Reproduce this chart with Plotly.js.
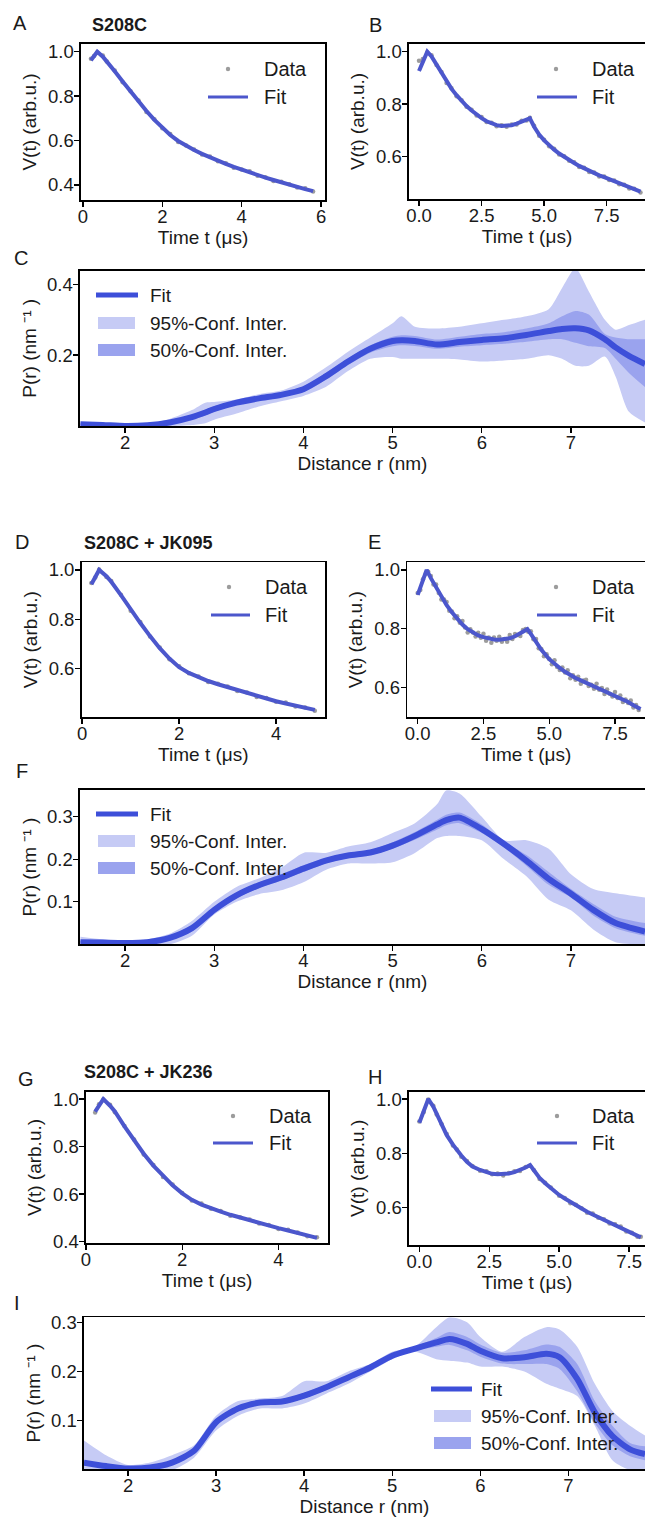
<!DOCTYPE html>
<html><head><meta charset="utf-8">
<script src="https://cdn.plot.ly/plotly-3.0.1.min.js"></script>
<style>html,body{margin:0;padding:0;background:#fff}#chart{width:645px;height:1517px}</style>
</head><body><div id="chart"></div>
<script>
// ---------- Time-domain traces V(t) ----------
const A_t   = [0.2,0.28,0.36,0.5,0.6,0.8,1.0,1.2,1.4,1.6,1.8,2.0,2.2,2.4,2.6,2.8,3.0,3.2,3.4,3.6,3.8,4.0,4.2,4.4,4.6,4.8,5.0,5.2,5.4,5.6,5.8];
const A_fit = [0.962,0.985,1.000,0.978,0.958,0.912,0.866,0.820,0.775,0.733,0.693,0.657,0.625,0.598,0.576,0.557,0.540,0.524,0.509,0.495,0.481,0.468,0.456,0.444,0.433,0.422,0.411,0.401,0.391,0.381,0.372];
const A_data= [0.968,0.981,0.997,0.983,0.956,0.916,0.863,0.822,0.780,0.729,0.696,0.655,0.629,0.593,0.578,0.560,0.537,0.528,0.507,0.498,0.477,0.470,0.461,0.441,0.435,0.418,0.414,0.403,0.388,0.385,0.370];

const B_t   = [0.0,0.15,0.33,0.5,0.7,0.9,1.1,1.3,1.5,1.7,1.9,2.1,2.3,2.5,2.7,2.9,3.1,3.3,3.5,3.7,3.9,4.1,4.3,4.43,4.6,4.8,5.0,5.2,5.4,5.6,5.8,6.0,6.2,6.4,6.6,6.8,7.0,7.2,7.4,7.6,7.8,8.0,8.2,8.4,8.6,8.85];
const B_fit = [0.926,0.962,1.000,0.982,0.952,0.918,0.885,0.858,0.834,0.812,0.793,0.776,0.760,0.747,0.735,0.726,0.720,0.717,0.717,0.720,0.726,0.733,0.741,0.746,0.714,0.684,0.662,0.643,0.627,0.612,0.599,0.588,0.576,0.565,0.555,0.545,0.537,0.529,0.522,0.514,0.506,0.498,0.490,0.482,0.475,0.467];
const B_data= [0.965,0.972,0.997,0.986,0.949,0.922,0.881,0.861,0.830,0.815,0.790,0.779,0.757,0.751,0.732,0.729,0.716,0.720,0.714,0.723,0.723,0.737,0.738,0.748,0.718,0.680,0.665,0.640,0.630,0.608,0.602,0.585,0.579,0.561,0.558,0.542,0.540,0.525,0.525,0.511,0.509,0.495,0.493,0.479,0.478,0.464];

const D_t   = [0.19,0.27,0.35,0.5,0.6,0.8,1.0,1.2,1.4,1.6,1.8,2.0,2.2,2.4,2.6,2.8,3.0,3.2,3.4,3.6,3.8,4.0,4.2,4.4,4.6,4.8];
const D_fit = [0.942,0.972,1.000,0.975,0.952,0.898,0.840,0.785,0.732,0.683,0.641,0.606,0.583,0.565,0.550,0.537,0.525,0.513,0.501,0.489,0.478,0.468,0.459,0.450,0.441,0.433];
const D_data= [0.947,0.969,1.002,0.971,0.955,0.900,0.835,0.789,0.730,0.686,0.638,0.610,0.581,0.568,0.546,0.539,0.528,0.510,0.503,0.485,0.481,0.466,0.463,0.447,0.443,0.430];

const E_t   = [0.0,0.17,0.34,0.5,0.7,0.9,1.1,1.3,1.5,1.7,1.9,2.1,2.3,2.5,2.7,2.9,3.1,3.3,3.5,3.7,3.9,4.17,4.3,4.5,4.7,5.0,5.2,5.4,5.6,5.8,6.0,6.2,6.4,6.6,6.8,7.0,7.2,7.4,7.6,7.8,8.0,8.2,8.47];
const E_fit = [0.915,0.958,1.000,0.972,0.940,0.908,0.880,0.856,0.834,0.814,0.798,0.786,0.777,0.771,0.766,0.763,0.762,0.763,0.767,0.774,0.784,0.798,0.782,0.755,0.728,0.696,0.680,0.666,0.653,0.641,0.632,0.624,0.616,0.608,0.600,0.592,0.584,0.577,0.569,0.560,0.550,0.539,0.526];
const E_dt  = [0.0,0.1,0.2,0.3,0.4,0.5,0.6,0.7,0.8,0.9,1.0,1.1,1.2,1.3,1.4,1.5,1.6,1.7,1.8,1.9,2.0,2.1,2.2,2.3,2.4,2.5,2.6,2.7,2.8,2.9,3.0,3.1,3.2,3.3,3.4,3.5,3.6,3.7,3.8,3.9,4.0,4.1,4.2,4.3,4.4,4.5,4.6,4.7,4.8,4.9,5.0,5.1,5.2,5.3,5.4,5.5,5.6,5.7,5.8,5.9,6.0,6.1,6.2,6.3,6.4,6.5,6.6,6.7,6.8,6.9,7.0,7.1,7.2,7.3,7.4,7.5,7.6,7.7,7.8,7.9,8.0,8.1,8.2,8.3,8.4];
const E_data= [0.921,0.932,0.968,0.985,0.994,0.979,0.950,0.950,0.921,0.899,0.899,0.891,0.861,0.858,0.835,0.842,0.820,0.826,0.804,0.787,0.798,0.787,0.773,0.786,0.769,0.783,0.759,0.770,0.752,0.770,0.759,0.772,0.755,0.765,0.755,0.778,0.765,0.782,0.778,0.775,0.795,0.799,0.789,0.791,0.764,0.765,0.733,0.731,0.706,0.713,0.697,0.679,0.692,0.669,0.659,0.668,0.651,0.658,0.631,0.641,0.626,0.636,0.612,0.623,0.626,0.605,0.609,0.595,0.612,0.592,0.598,0.577,0.593,0.578,0.569,0.584,0.564,0.572,0.550,0.559,0.547,0.555,0.531,0.540,0.523];

const G_t   = [0.19,0.27,0.36,0.5,0.6,0.8,1.0,1.2,1.4,1.6,1.8,2.0,2.2,2.4,2.6,2.8,3.0,3.2,3.4,3.6,3.8,4.0,4.2,4.4,4.6,4.8];
const G_fit = [0.947,0.975,1.000,0.972,0.948,0.885,0.826,0.770,0.720,0.676,0.637,0.603,0.576,0.556,0.540,0.526,0.513,0.501,0.490,0.479,0.468,0.457,0.447,0.436,0.426,0.416];
const G_data= [0.943,0.978,0.998,0.976,0.945,0.887,0.830,0.767,0.722,0.672,0.640,0.605,0.573,0.560,0.538,0.529,0.509,0.503,0.493,0.476,0.470,0.453,0.450,0.438,0.423,0.418];

const H_t   = [0.0,0.16,0.32,0.5,0.62,0.8,0.98,1.2,1.34,1.5,1.7,1.9,2.17,2.4,2.6,2.8,3.0,3.2,3.4,3.6,3.8,3.96,4.1,4.3,4.5,4.7,5.0,5.2,5.4,5.6,5.8,6.0,6.2,6.4,6.6,6.8,7.0,7.2,7.4,7.6,7.8,7.92];
const H_fit = [0.913,0.955,1.000,0.972,0.947,0.905,0.867,0.832,0.812,0.792,0.769,0.752,0.739,0.730,0.725,0.723,0.723,0.726,0.731,0.738,0.748,0.757,0.735,0.710,0.690,0.672,0.647,0.634,0.621,0.608,0.596,0.585,0.575,0.565,0.555,0.546,0.537,0.528,0.516,0.506,0.497,0.491];
const H_data= [0.917,0.952,0.998,0.975,0.943,0.907,0.871,0.829,0.814,0.788,0.772,0.754,0.736,0.734,0.723,0.726,0.719,0.728,0.734,0.735,0.750,0.755,0.738,0.706,0.692,0.675,0.644,0.636,0.617,0.611,0.598,0.582,0.579,0.563,0.558,0.542,0.539,0.531,0.513,0.508,0.493,0.493];

// ---------- Distance distributions P(r) ----------
const C_r     = [1.5,1.75,2.0,2.25,2.5,2.75,2.9,3.0,3.25,3.5,3.75,4.0,4.25,4.5,4.75,5.0,5.1,5.25,5.5,5.75,6.0,6.25,6.5,6.75,6.9,7.05,7.2,7.38,7.5,7.65,7.83];
const C_fit   = [0.005,0.003,0.0,0.002,0.010,0.025,0.038,0.048,0.066,0.078,0.088,0.104,0.140,0.182,0.218,0.240,0.242,0.240,0.230,0.237,0.243,0.248,0.257,0.268,0.274,0.276,0.270,0.245,0.222,0.198,0.175];
const C_up95  = [0.010,0.006,0.003,0.006,0.020,0.045,0.066,0.068,0.075,0.090,0.100,0.125,0.165,0.210,0.250,0.290,0.310,0.280,0.275,0.280,0.290,0.300,0.310,0.330,0.390,0.445,0.380,0.300,0.272,0.285,0.300];
const C_lo95  = [0.0,0.0,0.0,0.0,0.0,0.003,0.008,0.018,0.035,0.055,0.070,0.085,0.110,0.155,0.190,0.195,0.190,0.190,0.190,0.188,0.182,0.185,0.190,0.200,0.190,0.170,0.170,0.196,0.140,0.040,0.010];
const C_up50  = [0.007,0.005,0.002,0.004,0.014,0.030,0.046,0.056,0.072,0.083,0.093,0.112,0.150,0.190,0.228,0.252,0.256,0.254,0.244,0.252,0.260,0.265,0.275,0.290,0.310,0.325,0.315,0.260,0.250,0.245,0.245];
const C_lo50  = [0.003,0.001,0.0,0.0,0.006,0.019,0.030,0.040,0.060,0.073,0.083,0.096,0.130,0.172,0.207,0.225,0.228,0.226,0.218,0.224,0.228,0.232,0.238,0.245,0.245,0.235,0.225,0.220,0.190,0.150,0.110];

const F_r     = [1.5,1.75,2.0,2.25,2.5,2.75,3.0,3.25,3.5,3.75,4.0,4.25,4.5,4.75,5.0,5.25,5.5,5.6,5.75,6.0,6.25,6.5,6.75,7.0,7.25,7.5,7.83];
const F_fit   = [0.005,0.004,0.003,0.005,0.015,0.038,0.081,0.115,0.139,0.157,0.178,0.197,0.209,0.216,0.232,0.255,0.282,0.292,0.298,0.271,0.236,0.197,0.154,0.119,0.081,0.050,0.030];
const F_up95  = [0.018,0.012,0.008,0.012,0.025,0.055,0.100,0.135,0.155,0.180,0.215,0.215,0.230,0.240,0.262,0.285,0.330,0.362,0.355,0.300,0.245,0.245,0.225,0.165,0.130,0.120,0.110];
const F_lo95  = [0.0,0.0,0.0,0.0,0.0,0.020,0.070,0.100,0.118,0.127,0.146,0.175,0.190,0.190,0.193,0.215,0.250,0.255,0.255,0.245,0.200,0.160,0.105,0.080,0.035,0.005,0.0];
const F_up50  = [0.008,0.006,0.005,0.008,0.020,0.045,0.088,0.122,0.146,0.165,0.186,0.203,0.215,0.222,0.240,0.264,0.293,0.305,0.310,0.282,0.242,0.210,0.170,0.130,0.095,0.065,0.050];
const F_lo50  = [0.002,0.002,0.001,0.002,0.010,0.030,0.075,0.108,0.132,0.150,0.170,0.190,0.203,0.210,0.225,0.246,0.270,0.280,0.285,0.262,0.228,0.185,0.140,0.110,0.068,0.038,0.020];

const I_r     = [1.5,1.75,2.0,2.25,2.5,2.75,3.0,3.25,3.5,3.75,4.0,4.25,4.5,4.75,5.0,5.25,5.5,5.65,5.85,6.0,6.25,6.5,6.75,6.9,7.1,7.3,7.5,7.7,7.87];
const I_fit   = [0.015,0.008,0.003,0.005,0.015,0.039,0.097,0.125,0.137,0.139,0.151,0.168,0.188,0.208,0.232,0.246,0.259,0.266,0.256,0.242,0.227,0.229,0.236,0.229,0.185,0.117,0.069,0.042,0.032];
const I_up95  = [0.060,0.030,0.010,0.015,0.030,0.050,0.110,0.140,0.145,0.150,0.180,0.180,0.200,0.215,0.240,0.250,0.290,0.310,0.300,0.270,0.240,0.270,0.290,0.285,0.250,0.175,0.120,0.090,0.070];
const I_lo95  = [0.0,0.0,0.0,0.0,0.0,0.025,0.080,0.110,0.125,0.125,0.135,0.155,0.175,0.200,0.225,0.240,0.225,0.222,0.218,0.210,0.210,0.200,0.175,0.165,0.150,0.090,0.020,0.0,0.0];
const I_up50  = [0.020,0.012,0.005,0.008,0.020,0.044,0.102,0.130,0.141,0.143,0.157,0.173,0.193,0.212,0.236,0.250,0.268,0.280,0.270,0.255,0.238,0.243,0.255,0.250,0.215,0.140,0.090,0.055,0.048];
const I_lo50  = [0.010,0.004,0.0,0.002,0.010,0.034,0.092,0.120,0.133,0.135,0.145,0.163,0.183,0.204,0.228,0.242,0.250,0.254,0.243,0.230,0.216,0.215,0.215,0.205,0.160,0.095,0.050,0.028,0.020];

// ---------- Text ----------
const panelLetters = ['A','B','C','D','E','F','G','H','I'];
const sampleTitles = ['S208C','S208C + JK095','S208C + JK236'];
const timeXTitle = 'Time t (μs)';
const timeYTitle = 'V(t) (arb.u.)';
const distXTitle = 'Distance r (nm)';
const distYTitle = 'P(r) (nm ⁻¹ )';
const legTime = ['Data','Fit'];
const legDist = ['Fit','95%-Conf. Inter.','50%-Conf. Inter.'];

// ---------- Styling / layout ----------
const W = 645, HGT = 1517;
const pxX = v => v / W, pxY = v => 1 - v / HGT;
const FONT = '"Liberation Sans", Arial, sans-serif';
const TXT = '#1a1a1a';
const FIT_T = '#4c57cc', DATA_C = '#9c9c9c';
const FIT_P = '#3d4fd9', C95 = '#c6cbf5', C50 = '#9aa3ee';
const TICK_FS = 18.5, TITLE_FS = 19;

const timePanels = [
  {t:A_t, fit:A_fit, dt:A_t, data:A_data, box:[81,44,325,200], xr:[-0.05,6.1], yr:[0.332,1.035], xt:[0,2,4,6], xf:'d', yt:[0.4,0.6,0.8,1.0], full:true, leg:[228,69,208,248,97,262]},
  {t:B_t, fit:B_fit, dt:B_t, data:B_data, box:[409,44,645,199], xr:[-0.4,9.03], yr:[0.439,1.029], xt:[0,2.5,5,7.5], xf:'.1f', yt:[0.6,0.8,1.0], full:false, leg:[556,69,537,577,97,590]},
  {t:D_t, fit:D_fit, dt:D_t, data:D_data, box:[81.7,562.3,325,717.3], xr:[-0.01,5.01], yr:[0.403,1.031], xt:[0,2,4], xf:'d', yt:[0.6,0.8,1.0], full:true, leg:[229,587,211,250,615,263]},
  {t:E_t, fit:E_fit, dt:E_dt, data:E_data, box:[407.3,562.3,645,717.3], xr:[-0.395,8.64], yr:[0.498,1.026], xt:[0,2.5,5,7.5], xf:'.1f', yt:[0.6,0.8,1.0], full:false, leg:[556,587,537,577,615,590]},
  {t:G_t, fit:G_fit, dt:G_t, data:G_data, box:[86,1091.7,328,1243.3], xr:[0,5.03], yr:[0.393,1.031], xt:[0,2,4], xf:'d', yt:[0.4,0.6,0.8,1.0], full:true, leg:[233,1116,213,253,1143,267]},
  {t:H_t, fit:H_fit, dt:H_t, data:H_data, box:[409,1091.7,645,1245], xr:[-0.37,8.07], yr:[0.463,1.027], xt:[0,2.5,5,7.5], xf:'.1f', yt:[0.6,0.8,1.0], full:false, leg:[557,1116,537,577,1143,590]}
];
const distPanels = [
  {r:C_r, fit:C_fit, u95:C_up95, l95:C_lo95, u50:C_up50, l50:C_lo50, box:[80,270.7,645,426], xr:[1.495,7.83], yr:[0,0.4385], yt:[0.2,0.4], leg:{lx0:96,lx1:138,px0:98,px1:135,tx:148,ys:[295,323,350]}},
  {r:F_r, fit:F_fit, u95:F_up95, l95:F_lo95, u50:F_up50, l50:F_lo50, box:[80,790,645,944.3], xr:[1.495,7.83], yr:[0,0.363], yt:[0.1,0.2,0.3], leg:{lx0:96,lx1:138,px0:98,px1:135,tx:148,ys:[814,841,868]}},
  {r:I_r, fit:I_fit, u95:I_up95, l95:I_lo95, u50:I_up50, l50:I_lo50, box:[84,1317.3,645,1469], xr:[1.5,7.87], yr:[0.002,0.31], yt:[0.1,0.2,0.3], leg:{lx0:431,lx1:472,px0:434,px1:471,tx:479,ys:[1389,1416,1443]}}
];

const traces = [], shapes = [], annotations = [];
const layout = {
  width: W, height: HGT, margin:{l:0,r:0,t:0,b:0},
  paper_bgcolor:'#ffffff', plot_bgcolor:'#ffffff',
  showlegend:false, font:{family:FONT, size:TICK_FS, color:TXT},
  shapes, annotations
};

function axisBase(box, isX, full){
  return {
    domain: isX ? [pxX(box[0]), pxX(box[2])] : [pxY(box[3]), pxY(box[1])],
    showline:true, linecolor:'#000', linewidth:1.6,
    mirror: isX ? true : full,
    ticks:'outside', ticklen:5, tickwidth:1.4, tickcolor:'#000',
    ticklabelstandoff: isX ? -6 : -3,
    showgrid:false, zeroline:false, fixedrange:true,
    tickfont:{family:FONT, size:TICK_FS, color:TXT}
  };
}

const order = ['T','T','P','T','T','P','T','T','P'];
let ti = 0, di = 0;
order.forEach((kind, idx) => {
  const n = idx + 1;
  const xa = n === 1 ? 'x' : 'x' + n, ya = n === 1 ? 'y' : 'y' + n;
  const xk = n === 1 ? 'xaxis' : 'xaxis' + n, yk = n === 1 ? 'yaxis' : 'yaxis' + n;
  if (kind === 'T') {
    const p = timePanels[ti++];
    const xax = axisBase(p.box, true, p.full);
    Object.assign(xax, {anchor: ya, range:p.xr, tickvals:p.xt, tickformat:p.xf,
      title:{text:timeXTitle, font:{family:FONT,size:TITLE_FS,color:TXT}, standoff:0}});
    const yax = axisBase(p.box, false, p.full);
    Object.assign(yax, {anchor: xa, range:p.yr, tickvals:p.yt, tickformat:'.1f',
      title:{text:timeYTitle, font:{family:FONT,size:TITLE_FS,color:TXT}, standoff:6}});
    layout[xk] = xax; layout[yk] = yax;
    traces.push({type:'scatter', mode:'markers', x:p.dt, y:p.data, xaxis:xa, yaxis:ya,
      marker:{size:4.5, color:DATA_C}, hoverinfo:'skip'});
    traces.push({type:'scatter', mode:'lines', x:p.t, y:p.fit, xaxis:xa, yaxis:ya,
      line:{color:FIT_T, width:4}, hoverinfo:'skip'});
    const L = p.leg;
    shapes.push({type:'circle', xref:'paper', yref:'paper', x0:pxX(L[0]-2.2), x1:pxX(L[0]+2.2), y0:pxY(L[1]+2.2), y1:pxY(L[1]-2.2), fillcolor:DATA_C, line:{width:0}});
    shapes.push({type:'line', xref:'paper', yref:'paper', x0:pxX(L[2]), x1:pxX(L[3]), y0:pxY(L[4]), y1:pxY(L[4]), line:{color:FIT_T, width:3}});
    annotations.push({xref:'paper', yref:'paper', x:pxX(L[5]), y:pxY(L[1]), text:legTime[0], showarrow:false, xanchor:'left', yanchor:'middle', font:{family:FONT,size:20,color:TXT}});
    annotations.push({xref:'paper', yref:'paper', x:pxX(L[5]), y:pxY(L[4]), text:legTime[1], showarrow:false, xanchor:'left', yanchor:'middle', font:{family:FONT,size:20,color:TXT}});
  } else {
    const p = distPanels[di++];
    const xax = axisBase(p.box, true, false);
    Object.assign(xax, {anchor: ya, range:p.xr, tickvals:[2,3,4,5,6,7], tickformat:'d',
      title:{text:distXTitle, font:{family:FONT,size:TITLE_FS,color:TXT}, standoff:0}});
    const yax = axisBase(p.box, false, false);
    Object.assign(yax, {anchor: xa, range:p.yr, tickvals:p.yt, tickformat:'.1f',
      title:{text:distYTitle, font:{family:FONT,size:TITLE_FS,color:TXT}, standoff:5}});
    layout[xk] = xax; layout[yk] = yax;
    const sp = {shape:'spline', smoothing:0.7};
    traces.push({type:'scatter', mode:'lines', x:p.r, y:p.l95, xaxis:xa, yaxis:ya, line:Object.assign({width:0, color:C95}, sp), hoverinfo:'skip'});
    traces.push({type:'scatter', mode:'lines', x:p.r, y:p.u95, xaxis:xa, yaxis:ya, fill:'tonexty', fillcolor:C95, line:Object.assign({width:0, color:C95}, sp), hoverinfo:'skip'});
    traces.push({type:'scatter', mode:'lines', x:p.r, y:p.l50, xaxis:xa, yaxis:ya, line:Object.assign({width:0, color:C50}, sp), hoverinfo:'skip'});
    traces.push({type:'scatter', mode:'lines', x:p.r, y:p.u50, xaxis:xa, yaxis:ya, fill:'tonexty', fillcolor:C50, line:Object.assign({width:0, color:C50}, sp), hoverinfo:'skip'});
    traces.push({type:'scatter', mode:'lines', x:p.r, y:p.fit, xaxis:xa, yaxis:ya, line:Object.assign({width:6, color:FIT_P}, sp), hoverinfo:'skip'});
    const L = p.leg;
    shapes.push({type:'line', xref:'paper', yref:'paper', x0:pxX(L.lx0), x1:pxX(L.lx1), y0:pxY(L.ys[0]), y1:pxY(L.ys[0]), line:{color:FIT_P, width:5}});
    shapes.push({type:'rect', xref:'paper', yref:'paper', x0:pxX(L.px0), x1:pxX(L.px1), y0:pxY(L.ys[1]+6), y1:pxY(L.ys[1]-6), fillcolor:C95, line:{width:0}});
    shapes.push({type:'rect', xref:'paper', yref:'paper', x0:pxX(L.px0), x1:pxX(L.px1), y0:pxY(L.ys[2]+6), y1:pxY(L.ys[2]-6), fillcolor:C50, line:{width:0}});
    legDist.forEach((s, k) => annotations.push({xref:'paper', yref:'paper', x:pxX(L.tx), y:pxY(L.ys[k]), text:s, showarrow:false, xanchor:'left', yanchor:'middle', font:{family:FONT,size:19,color:TXT}}));
  }
});

const letterPos = [[20,23],[375,25],[21,258],[22,542],[374,542],[22,771],[26,1079],[375,1077],[17,1303]];
panelLetters.forEach((s, k) => annotations.push({xref:'paper', yref:'paper', x:pxX(letterPos[k][0]), y:pxY(letterPos[k][1]), text:s, showarrow:false, xanchor:'center', yanchor:'middle', font:{family:FONT,size:20,color:TXT}}));
const titlePos = [[90,25],[82,543],[82,1072]];
sampleTitles.forEach((s, k) => annotations.push({xref:'paper', yref:'paper', x:pxX(titlePos[k][0]), y:pxY(titlePos[k][1]), text:'<b>'+s+'</b>', showarrow:false, xanchor:'left', yanchor:'middle', font:{family:FONT,size:18,color:TXT}}));

Plotly.newPlot('chart', traces, layout, {staticPlot:true, displayModeBar:false});
</script>
</body></html>
